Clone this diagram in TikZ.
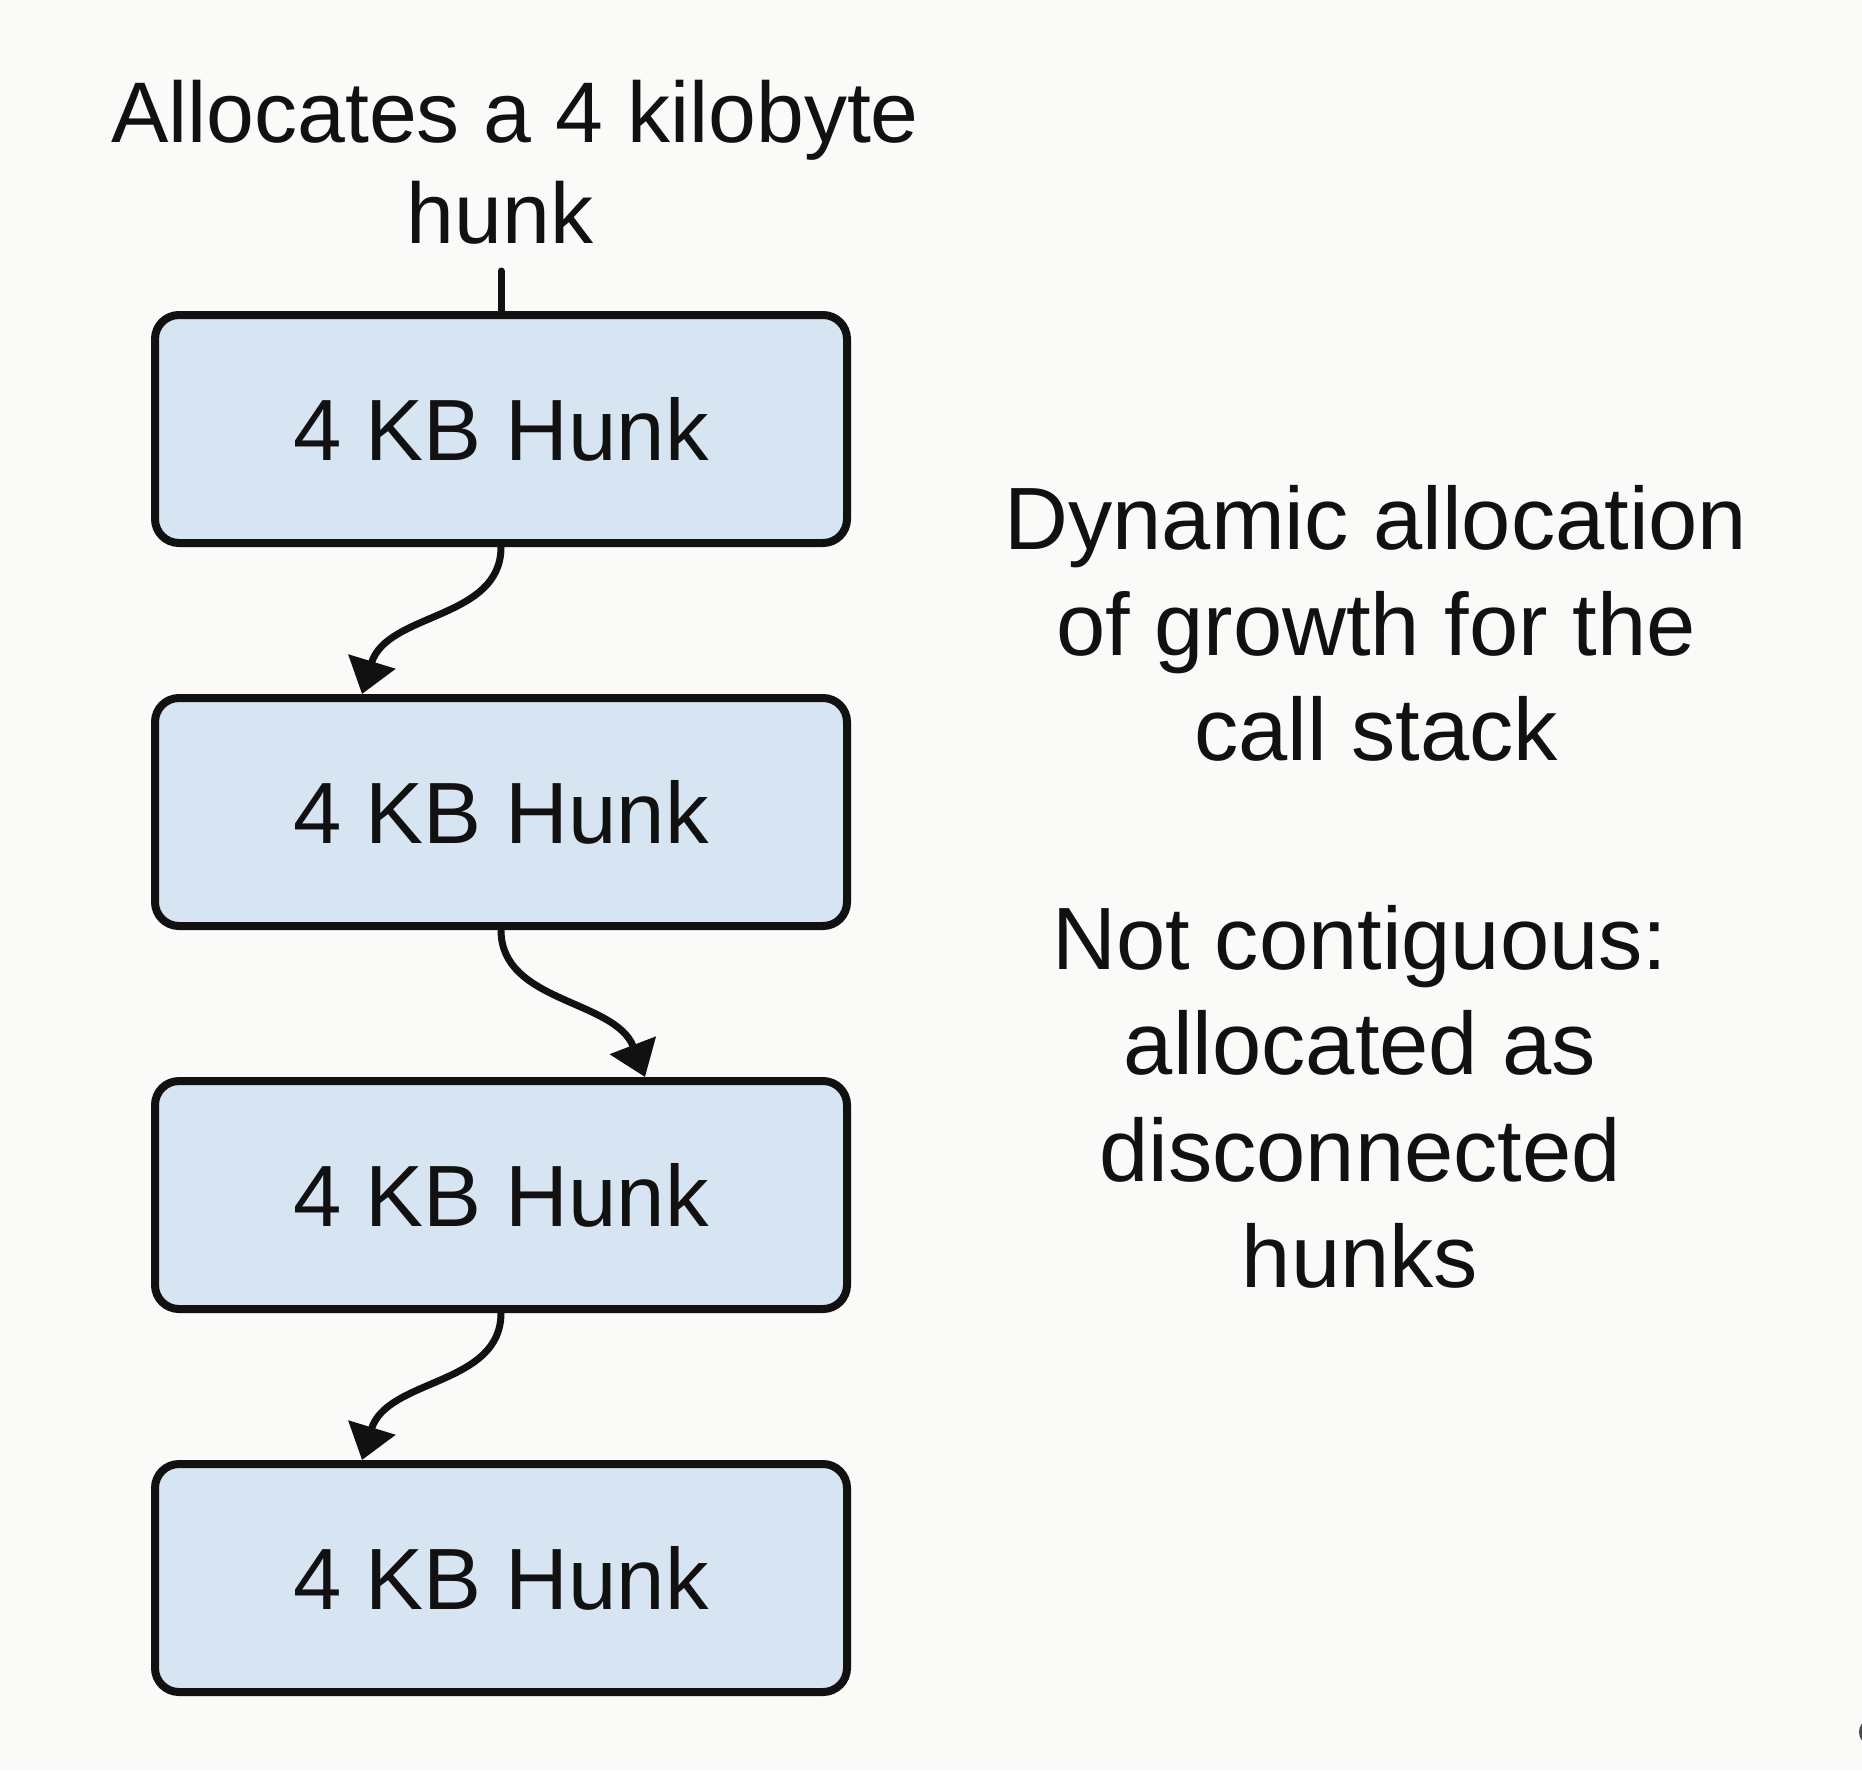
\documentclass[tikz,border=0pt]{standalone}
\usepackage{fontspec}
\setmainfont{Liberation Sans}
\usetikzlibrary{arrows.meta}
\definecolor{bgc}{RGB}{250,250,248}
\definecolor{boxfill}{RGB}{215,228,242}
\definecolor{ink}{RGB}{17,17,17}
\begin{document}
\begin{tikzpicture}[x=1pt,y=-1pt,
  hunkbox/.style={draw=ink, line width=8pt, fill=boxfill, rounded corners=24pt,
    minimum width=692pt, minimum height=228pt, inner sep=0pt,
    font=\fontsize{87}{100}\selectfont, text=ink},
  lbl/.style={anchor=base, inner sep=0pt, font=\fontsize{86}{100}\selectfont, text=ink},
  rlbl/.style={lbl, font=\fontsize{88.5}{100}\selectfont},
  conn/.style={draw=ink, line width=7pt, -{Triangle[length=34pt,width=48pt]}},
  stem/.style={draw=ink, line width=7pt, line cap=round}]
\fill[bgc] (0,0) rectangle (1862,1770);
\useasboundingbox (0,0) rectangle (1862,1770);

% boxes
\node[hunkbox] (b1) at (501,429) {4 KB Hunk};
\node[hunkbox] (b2) at (501,812) {4 KB Hunk};
\node[hunkbox] (b3) at (501,1195) {4 KB Hunk};
\node[hunkbox] (b4) at (501,1578) {4 KB Hunk};

% title
\node[lbl] (t1) at (515,142) {Allocates a 4 kilobyte};
\node[lbl] (t2) at (500,243) {hunk};
\coordinate (top) at (501,271);
\draw[stem] (top) -- (b1.north);

% right texts
\node[rlbl] (d1) at (1376,549) {Dynamic allocation};
\node[rlbl] (d2) at (1376,655) {of growth for the};
\node[rlbl] (d3) at (1376,760) {call stack};
\node[rlbl] (n1) at (1360,969) {Not contiguous:};
\node[rlbl] (n2) at (1360,1074) {allocated as};
\node[rlbl] (n3) at (1360,1181) {disconnected};
\node[rlbl] (n4) at (1360,1287) {hunks};

% connectors
\draw[conn] (b1.south) .. controls +(0,73) and +(25,-82) .. ([xshift=-139pt]b2.north);
\draw[conn] (b2.south) .. controls +(0,73) and +(-30,-78) .. ([xshift=144pt]b3.north);
\draw[conn] (b3.south) .. controls +(0,73) and +(25,-82) .. ([xshift=-139pt]b4.north);

% clipped glyph at the right edge
\begin{scope}
  \clip (0,0) rectangle (1862,1770);
  \fill[gray!60!black] (1867,1732) ellipse [x radius=8pt, y radius=11pt];
\end{scope}
\end{tikzpicture}
\end{document}
